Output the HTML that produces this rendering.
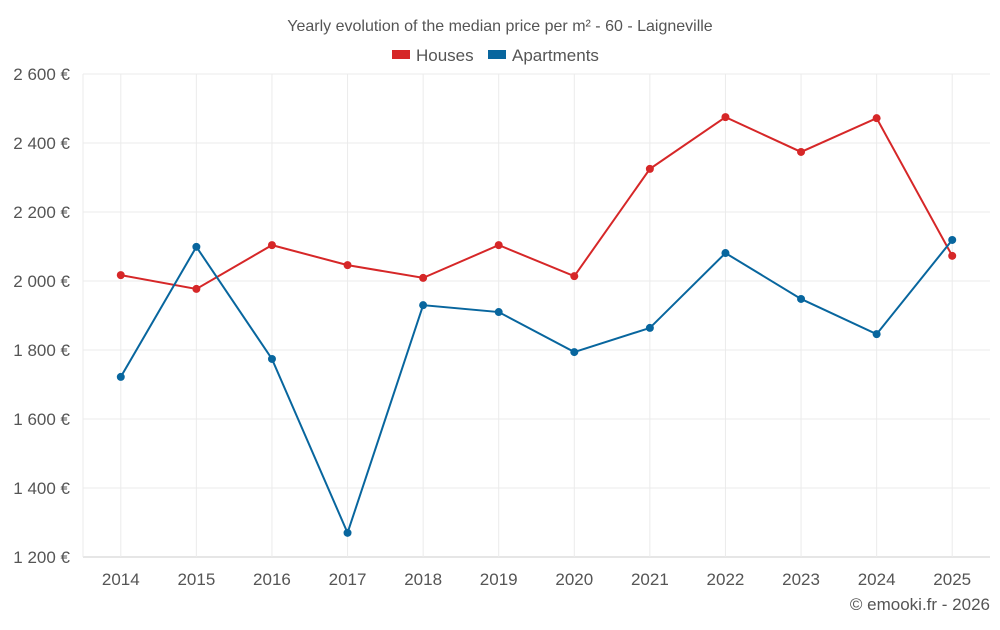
<!DOCTYPE html>
<html><head><meta charset="utf-8"><style>
body{margin:0;background:#fff;font-family:"Liberation Sans",sans-serif}
svg text{font-family:"Liberation Sans",sans-serif;fill:#555}
</style></head><body>
<svg id="c" width="1000" height="625">
<text x="500" y="31" text-anchor="middle" font-size="16">Yearly evolution of the median price per m² - 60 - Laigneville</text>
<g>
<rect x="392" y="50" width="18" height="9" fill="#d62728"/>
<text x="416" y="61" font-size="17">Houses</text>
<rect x="488" y="50" width="18" height="9" fill="#08669e"/>
<text x="512" y="61" font-size="17">Apartments</text>
</g>
<g id="grid"></g><g id="axes"></g><g id="series"></g>
<text x="990" y="610" text-anchor="end" font-size="17">© emooki.fr - 2026</text>
</svg>
<script>
const years=[2014,2015,2016,2017,2018,2019,2020,2021,2022,2023,2024,2025];
const houses=[2017,1977,2104,2046,2009,2104,2014,2325,2475,2374,2472,2073];
const apartments=[1722,2099,1774,1270,1930,1910,1794,1864,2081,1948,1846,2119];
const yTicks=[1200,1400,1600,1800,2000,2200,2400,2600];
const L=83,R=990,T=74,B=557,ymin=1200,ymax=2600;
const step=(R-L)/years.length;
const x=i=>L+step*(i+0.5);
const y=v=>B-(v-ymin)/(ymax-ymin)*(B-T);
const ns="http://www.w3.org/2000/svg";
function mk(t,a,p){const e=document.createElementNS(ns,t);for(const k in a)e.setAttribute(k,a[k]);p.appendChild(e);return e;}
const g=document.getElementById('grid'),ax=document.getElementById('axes'),s=document.getElementById('series');
const fmt=v=>String(v).replace(/\B(?=(\d{3})+$)/,' ')+' €';
yTicks.forEach(v=>{
 const l=mk('line',{x1:L,x2:R,y1:y(v),y2:y(v),stroke:v==ymin?'#ccc':'#ebebeb'},g);
 
 
 const t=mk('text',{x:70,y:y(v)+6,'text-anchor':'end','font-size':17},ax);t.textContent=fmt(v);
 
 
});
const edge=mk('line',{x1:L,x2:L,y1:T,y2:B,stroke:'#ebebeb'},g);


years.forEach((yr,i)=>{
 const l=mk('line',{x1:x(i),x2:x(i),y1:T,y2:B,stroke:'#ebebeb'},g);
 
 
 const t=mk('text',{x:x(i),y:585,'text-anchor':'middle','font-size':17},ax);t.textContent=yr;
 
 
});
function series(d,c,n){
 const p=mk('polyline',{points:d.map((v,i)=>x(i)+','+y(v)).join(' '),fill:'none',stroke:c,'stroke-width':2},s);
 
 
 d.forEach((v,i)=>{
  const m=mk('circle',{cx:x(i),cy:y(v),r:4,fill:c},s);
  
  
 });
}
series(houses,'#d62728','houses');
series(apartments,'#08669e','apartments');
</script>
</body></html>
